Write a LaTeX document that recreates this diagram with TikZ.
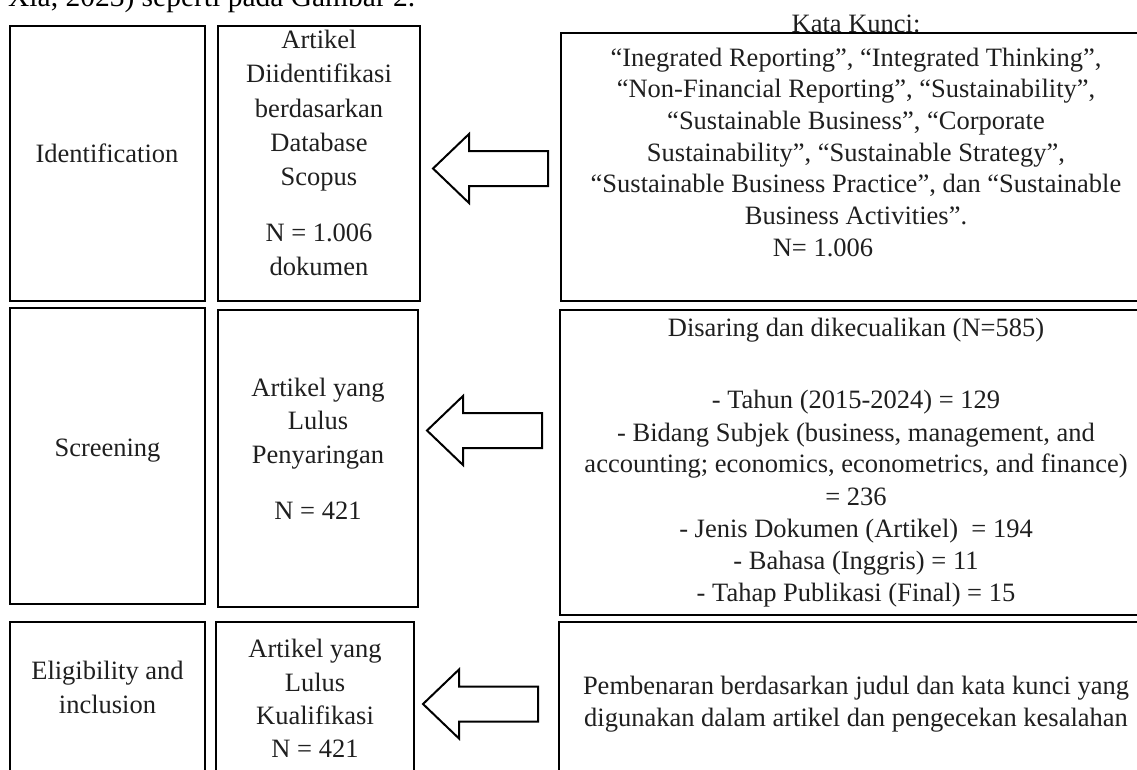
\documentclass[tikz,border=0pt]{standalone}
\usepackage{fontspec}
\setmainfont{Liberation Serif}
\begin{document}
\begin{tikzpicture}[x=1pt,y=-1pt,
  box/.style={draw=black,line width=2.2pt,rectangle,inner sep=0pt},
  txt/.style={anchor=base,inner sep=0pt,font=\fontsize{26.5}{32}\selectfont,text=black!88},
  blockarrow/.style={draw=black,line width=2pt,fill=white,line join=miter}]
\useasboundingbox (0,0) rectangle (1137,769);
\clip (0,0) rectangle (1137,769);
\fill[white] (0,0) rectangle (1137,769);
% cropped line of body text above the figure
\node[anchor=base west,inner sep=0pt,font=\fontsize{29.5}{34}\selectfont] (head) at (8,6) {Xia, 2023) seperti pada Gambar 2.};
% boxes
\node[box,minimum width=195,minimum height=275] (b11) at (107.5,163.5) {};
\node[box,minimum width=202,minimum height=275] (b12) at (319,163.5) {};
\node[box,minimum width=599,minimum height=268] (b13) at (860.5,167) {};
\node[box,minimum width=195,minimum height=296] (b21) at (107.5,456) {};
\node[box,minimum width=200,minimum height=297] (b22) at (318,458.5) {};
\node[box,minimum width=600,minimum height=305] (b23) at (860,462.5) {};
\node[box,minimum width=195,minimum height=178] (b31) at (107.5,711) {};
\node[box,minimum width=198,minimum height=178] (b32) at (315,711) {};
\node[box,minimum width=601,minimum height=178] (b33) at (859.5,711) {};
% block arrows
\coordinate (a1) at (433,168.5);
\coordinate (a2) at (427,430.5);
\coordinate (a3) at (423,704);
\foreach \a in {a1,a2,a3}{
  \draw[blockarrow] (\a) -- ++(36,-34.5) -- ++(0,17) -- ++(79,0) -- ++(0,35) -- ++(-79,0) -- ++(0,17) -- cycle;
}
% row 1 texts
\node[txt] (t11) at (107,162) {Identification};
\node[txt] (t12a) at (319,48) {Artikel};
\node[txt] (t12b) at (319,82) {Diidentifikasi};
\node[txt] (t12c) at (319,117) {berdasarkan};
\node[txt] (t12d) at (319,151) {Database};
\node[txt] (t12e) at (319,185) {Scopus};
\node[txt] (t12f) at (319,241) {N = 1.006};
\node[txt] (t12g) at (319,275) {dokumen};
\node[txt] (t13k) at (856,32) {Kata Kunci:};
\node[txt] (t13a) at (856,66) {“Inegrated Reporting”, “Integrated Thinking”,};
\node[txt] (t13b) at (856,97) {“Non-Financial Reporting”, “Sustainability”,};
\node[txt] (t13c) at (856,129) {“Sustainable Business”, “Corporate};
\node[txt] (t13d) at (856,161) {Sustainability”, “Sustainable Strategy”,};
\node[txt] (t13e) at (856,192) {“Sustainable Business Practice”, dan “Sustainable};
\node[txt] (t13f) at (856,224) {Business Activities”.};
\node[txt] (t13g) at (823,256) {N= 1.006};
% row 2 texts
\node[txt] (t21) at (107.5,456) {Screening};
\node[txt] (t22a) at (318,396) {Artikel yang};
\node[txt] (t22b) at (318,429) {Lulus};
\node[txt] (t22c) at (318,463) {Penyaringan};
\node[txt] (t22d) at (318,519) {N = 421};
\node[txt] (t23a) at (856,336) {Disaring dan dikecualikan (N=585)};
\node[txt] (t23b) at (856,408) {- Tahun (2015-2024) = 129};
\node[txt] (t23c) at (856,441) {- Bidang Subjek (business, management, and};
\node[txt] (t23d) at (856,472) {accounting; economics, econometrics, and finance)};
\node[txt] (t23e) at (856,505) {= 236};
\node[txt] (t23f) at (856,537) {- Jenis Dokumen (Artikel)~ = 194};
\node[txt] (t23g) at (856,569) {- Bahasa (Inggris) = 11};
\node[txt] (t23h) at (856,601) {- Tahap Publikasi (Final) = 15};
% row 3 texts
\node[txt] (t31a) at (107.5,679) {Eligibility and};
\node[txt] (t31b) at (107.5,713) {inclusion};
\node[txt] (t32a) at (315,657) {Artikel yang};
\node[txt] (t32b) at (315,691) {Lulus};
\node[txt] (t32c) at (315,724) {Kualifikasi};
\node[txt] (t32d) at (315,757) {N = 421};
\node[txt] (t33a) at (856,694) {Pembenaran berdasarkan judul dan kata kunci yang};
\node[txt] (t33b) at (856,726) {digunakan dalam artikel dan pengecekan kesalahan};
\end{tikzpicture}
\end{document}
